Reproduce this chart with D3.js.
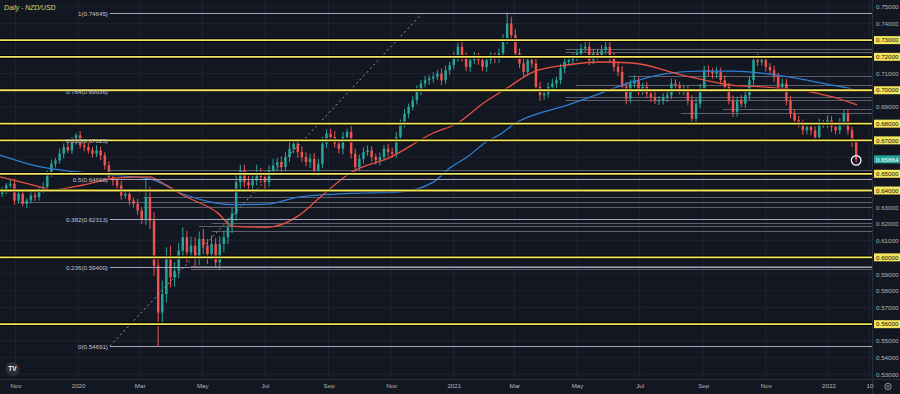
<!DOCTYPE html>
<html><head><meta charset="utf-8">
<script src="https://cdn.jsdelivr.net/npm/d3@7"></script>
<style>html,body{margin:0;padding:0;background:#131722;overflow:hidden}svg{display:block}</style>
</head><body><svg id="c" width="900" height="394"></svg>
<script>
// ---------------- data ----------------
const title = "Daily - NZD/USD";
const startDate = "2019-10-19";
const stepDays = 4;
const firstOpen = 0.638;
const closes = [
0.640,0.643,0.644,0.634,0.638,0.632,0.634,0.637,0.636,0.640,0.642,0.650,0.656,0.658,0.662,0.666,0.664,0.670,0.673,0.667,
0.666,0.664,0.662,0.664,0.661,0.655,0.648,0.646,0.643,0.637,0.638,0.634,0.632,0.628,0.623,0.636,
0.622,0.595,0.567,0.578,0.600,0.588,0.592,0.604,0.612,0.603,0.607,0.600,0.611,0.607,0.602,0.608,0.597,0.608,0.612,0.618,
0.626,0.645,0.652,0.645,0.643,0.646,0.651,0.648,0.645,0.652,0.655,0.657,0.654,0.660,0.665,0.668,0.663,0.660,0.657,0.659,
0.652,0.656,0.668,0.674,0.672,0.668,0.665,0.672,0.675,0.662,0.654,0.659,0.663,0.664,0.660,0.658,0.660,0.665,0.663,0.662,
0.672,0.680,0.686,0.690,0.694,0.700,0.704,0.706,0.707,0.708,0.710,0.706,0.712,0.715,0.720,0.726,0.720,0.714,0.718,0.720,
0.718,0.714,0.718,0.720,0.719,0.722,0.730,0.740,0.733,0.722,0.716,0.711,0.718,0.716,0.702,0.697,0.698,0.702,0.704,0.706,
0.713,0.717,0.718,0.720,0.722,0.725,0.726,0.718,0.722,0.721,0.724,0.726,0.720,0.714,0.711,0.702,0.695,0.704,0.706,0.700,
0.702,0.698,0.696,0.694,0.694,0.696,0.697,0.704,0.703,0.700,0.700,0.694,0.683,0.692,0.701,0.712,0.711,0.710,0.711,0.706,
0.702,0.694,0.687,0.694,0.692,0.697,0.706,0.718,0.717,0.718,0.714,0.712,0.708,0.702,0.704,0.694,0.686,0.682,0.680,0.676,
0.678,0.676,0.672,0.680,0.680,0.682,0.678,0.676,0.681,0.686,0.676,0.669,0.65864
];
// upper / lower wick lengths beyond the body, in pips (0.0001)
const wickUpPips = [
20,15,25,30,18,22,15,20,25,18,30,20,25,15,30,22,28,20,15,25,
18,25,20,30,22,18,25,20,15,28,20,25,18,30,22,40,
60,50,40,80,60,70,50,45,60,40,55,50,45,60,40,50,35,45,40,55,
40,50,30,35,40,30,45,25,35,30,40,25,35,30,40,25,30,35,28,30,
35,30,40,25,30,35,28,30,20,35,30,25,28,30,25,20,28,22,30,25,
30,25,28,20,25,30,22,25,20,28,22,30,25,20,30,25,35,28,22,30,
25,30,22,28,25,30,35,30,40,35,30,28,30,25,35,30,28,25,30,22,
28,25,30,22,28,25,30,35,28,25,30,28,30,25,28,35,30,25,28,22,
25,28,22,30,25,22,28,30,25,22,28,25,30,35,28,25,30,22,28,25,
30,25,28,22,30,28,25,30,28,25,30,22,28,25,30,28,25,22,28,25,
22,28,25,30,22,28,25,30,22,25,28,20,15
];
const wickDnPips = [
18,22,15,25,20,15,25,18,22,20,15,25,18,22,20,28,15,22,25,18,
25,18,22,20,28,25,18,30,22,25,20,28,22,25,30,35,
50,60,40,70,50,60,55,45,50,60,40,55,45,50,60,35,40,45,50,40,
35,40,45,30,35,40,30,35,40,28,30,35,40,25,30,28,35,30,25,35,
30,35,28,25,30,22,28,35,25,30,28,25,30,22,28,25,30,20,28,25,
25,30,22,28,20,25,30,22,28,25,20,30,22,28,25,30,28,25,30,22,
28,25,30,22,28,25,30,25,35,30,28,30,25,28,30,35,28,25,22,28,
25,28,22,30,25,28,22,30,25,28,22,25,30,28,25,30,35,28,25,30,
28,25,30,22,28,25,30,22,28,25,30,28,25,30,28,22,25,30,28,25,
28,25,30,28,22,25,30,28,25,22,28,25,30,28,25,30,28,25,22,28,
25,30,28,22,25,28,30,25,22,28,25,30,20
];
const wickHighIdx = [35, 58, 111, 123, 142, 184, 205];
const wickHighVal = [0.6475, 0.6555, 0.7285, 0.74645, 0.7290, 0.7219, 0.6885];
const wickLowIdx = [38, 52, 168];
const wickLowVal = [0.54691, 0.5940, 0.6805];

const ma100Dates = ["2019-10-17","2019-11-28","2019-12-05","2020-01-06","2020-02-08","2020-03-11","2020-03-18","2020-04-12","2020-05-16","2020-05-31","2020-07-03","2020-08-04","2020-08-21","2020-09-22","2020-11-01","2020-12-12","2021-01-05","2021-01-30","2021-02-22","2021-03-19","2021-04-21","2021-05-23","2021-06-24","2021-08-12","2021-09-29","2021-11-01","2021-12-03","2022-01-05","2022-01-29"];
const ma100Values = [0.6481,0.6415,0.6403,0.6433,0.6475,0.6481,0.6463,0.6373,0.6266,0.6185,0.6180,0.6254,0.6344,0.6505,0.6601,0.6744,0.6804,0.6924,0.7013,0.7109,0.7151,0.7169,0.7163,0.7091,0.7031,0.7019,0.7001,0.6960,0.6912];
const ma200Dates = ["2019-10-17","2019-11-18","2020-01-22","2020-03-11","2020-04-12","2020-05-31","2020-07-03","2020-08-04","2020-10-08","2020-11-09","2020-12-12","2020-12-28","2021-01-14","2021-01-30","2021-02-16","2021-03-04","2021-03-19","2021-04-21","2021-05-23","2021-06-24","2021-07-27","2021-08-28","2021-09-29","2021-11-01","2021-12-03","2022-01-05","2022-01-24"];
const ma200Values = [0.6612,0.6552,0.6498,0.6469,0.6379,0.6315,0.6318,0.6362,0.6386,0.6391,0.6450,0.6535,0.6600,0.6680,0.6740,0.6810,0.6850,0.6910,0.6980,0.7050,0.7100,0.7115,0.7115,0.7100,0.7070,0.7030,0.7008];

const yellowLevels = [0.73, 0.72, 0.70, 0.68, 0.67, 0.65, 0.64, 0.60, 0.56];
const fibLow = 0.54691, fibHigh = 0.74645;
const fibRatios = [1, 0.764, 0.618, 0.5, 0.382, 0.236, 0];
const fibStartDate = "2020-02-01", fibEndDate = "2020-12-02";
const grayLevelPrices = [0.7245,0.7230,0.7085,0.7030,0.6960,0.6942,0.6885,0.6865,0.6525,0.6360,0.6330,0.6300,0.6205,0.6185,0.6155,0.5950,0.5930];
const grayLevelStarts = ["2021-04-20","2021-04-20","2021-06-20","2021-04-30","2021-04-20","2021-04-20","2021-09-20","2021-08-10","2020-01-31","2020-03-05","2019-11-05","2020-03-05","2020-05-10","2020-04-28","2020-05-10","2020-04-20","2020-04-20"];
const priceTicks = [0.53,0.54,0.55,0.56,0.57,0.58,0.59,0.60,0.61,0.62,0.63,0.64,0.65,0.66,0.67,0.68,0.69,0.70,0.71,0.72,0.73,0.74,0.75];
const timeTickDates = ["2019-11-01","2020-01-01","2020-03-01","2020-05-01","2020-07-01","2020-09-01","2020-11-01","2021-01-01","2021-03-01","2021-05-01","2021-07-01","2021-09-01","2021-11-01","2022-01-01","2022-02-10"];
const timeTickLabels = ["Nov","2020","Mar","May","Jul","Sep","Nov","2021","Mar","May","Jul","Sep","Nov","2022","10"];
const lastPrice = 0.65864;

// ---------------- chart ----------------
const W = 900, H = 394, PW = 872, PH = 379;
const parse = d3.timeParse("%Y-%m-%d");
const svg = d3.select("#c");
const font = "'Liberation Sans', Arial, sans-serif";
const bg = "#131722";

const x = d3.scaleTime().domain([new Date(2019,9,16,22), new Date(2022,1,12,10)]).range([0, PW]);
const y = d3.scaleLinear().domain([0.53, 0.75]).range([374.3, 6.7]);

svg.append("rect").attr("width", W).attr("height", H).attr("fill", bg);
svg.append("defs").append("clipPath").attr("id","clip").append("rect").attr("width", PW).attr("height", PH);
const plot = svg.append("g").attr("clip-path","url(#clip)");

// grid
plot.selectAll("line.hg").data(priceTicks).join("line").attr("class","hg")
  .attr("x1",0).attr("x2",PW).attr("y1",d=>y(d)).attr("y2",d=>y(d))
  .attr("stroke","#1f2330").attr("stroke-width",1);
plot.selectAll("line.vg").data(timeTickDates).join("line").attr("class","vg")
  .attr("y1",0).attr("y2",PH).attr("x1",d=>x(parse(d))).attr("x2",d=>x(parse(d)))
  .attr("stroke","#1f2330").attr("stroke-width",1);

// gray horizontal levels
plot.selectAll("line.gl").data(grayLevelPrices).join("line").attr("class","gl")
  .attr("x1",(d,i)=>x(parse(grayLevelStarts[i]))).attr("x2",PW)
  .attr("y1",d=>Math.round(y(d))+0.5).attr("y2",d=>Math.round(y(d))+0.5)
  .attr("stroke","#5d606b").attr("stroke-width",1);

// candles
const t0 = parse(startDate);
const candles = closes.map((c,i)=>{
  const o = i ? closes[i-1] : firstOpen;
  let hi = Math.max(o,c) + wickUpPips[i]*0.0001, lo = Math.min(o,c) - wickDnPips[i]*0.0001;
  const hk = wickHighIdx.indexOf(i); if (hk>=0) hi = wickHighVal[hk];
  const lk = wickLowIdx.indexOf(i); if (lk>=0) lo = wickLowVal[lk];
  return {date: d3.timeDay.offset(t0, i*stepDays), open:o, close:c, high:hi, low:lo};
});
const bw = Math.max(1.5, (x(d3.timeDay.offset(t0, stepDays)) - x(t0)) * 0.6);
const up = "#26a69a", dn = "#ef5350";
const cg = plot.append("g");
cg.selectAll("line").data(candles).join("line")
  .attr("x1",d=>x(d.date)).attr("x2",d=>x(d.date))
  .attr("y1",d=>y(d.high)).attr("y2",d=>y(d.low))
  .attr("stroke",d=>d.close>=d.open?up:dn).attr("stroke-width",1);
cg.selectAll("rect").data(candles).join("rect")
  .attr("x",d=>x(d.date)-bw/2).attr("width",bw)
  .attr("y",d=>y(Math.max(d.open,d.close)))
  .attr("height",d=>Math.max(1, Math.abs(y(d.open)-y(d.close))))
  .attr("fill",d=>d.close>=d.open?up:dn);

// moving averages
const line = d3.line().x(d=>x(d[0])).y(d=>y(d[1])).curve(d3.curveMonotoneX);
plot.append("path").datum(ma200Dates.map((d,i)=>[parse(d), ma200Values[i]]))
  .attr("d", line).attr("fill","none").attr("stroke","#2f7fd6").attr("stroke-width",1.3);
plot.append("path").datum(ma100Dates.map((d,i)=>[parse(d), ma100Values[i]]))
  .attr("d", line).attr("fill","none").attr("stroke","#e8503f").attr("stroke-width",1.3);

// fib retracement lines
const fs = parse(fibStartDate), fe = parse(fibEndDate);
plot.append("line").attr("x1",x(fs)).attr("y1",y(fibLow)).attr("x2",x(fe)).attr("y2",y(fibHigh))
  .attr("stroke","#9598a1").attr("stroke-width",1).attr("stroke-dasharray","2,3");
const fibG = plot.append("g");
fibRatios.forEach(r=>{
  const p = fibLow + r*(fibHigh-fibLow);
  const yy = Math.round(y(p))+0.5;
  fibG.append("line").attr("x1",x(fs)).attr("x2",PW).attr("y1",yy).attr("y2",yy)
    .attr("stroke","#a7a2b8").attr("stroke-width",1);
});

// yellow levels
const yel = "#f3e55c";
yellowLevels.forEach(p=>{
  const yy = y(p);
  plot.append("line").attr("x1",0).attr("x2",PW).attr("y1",yy).attr("y2",yy)
    .attr("stroke","#000").attr("stroke-width",3.6);
  plot.append("line").attr("x1",0).attr("x2",PW).attr("y1",yy).attr("y2",yy)
    .attr("stroke",yel).attr("stroke-width",1.8);
});

// fib labels (on top)
fibRatios.forEach(r=>{
  const p = fibLow + r*(fibHigh-fibLow);
  const yy = Math.round(y(p))+0.5;
  plot.append("text").attr("x",x(fs)-2).attr("y",yy).attr("dy","0.35em")
    .attr("text-anchor","end").attr("font-family",font).attr("font-size",6.2)
    .attr("fill","#c4c2cf").text(`${r}(${p.toFixed(5)})`);
});

// last price marker
plot.append("circle").attr("cx",x(candles[candles.length-1].date)).attr("cy",y(lastPrice)+1)
  .attr("r",4.8).attr("fill","none").attr("stroke","#ffffff").attr("stroke-width",1.3);

// title
svg.append("text").attr("x",4).attr("y",9.5).attr("font-family",font).attr("font-style","italic")
  .attr("font-size",6.8).attr("fill","#d7d95e").text(title);

// axis separators
svg.append("line").attr("x1",PW+0.5).attr("x2",PW+0.5).attr("y1",0).attr("y2",H).attr("stroke","#2a2e39");
svg.append("line").attr("x1",0).attr("x2",W).attr("y1",PH+0.5).attr("y2",PH+0.5).attr("stroke","#2a2e39");

// price axis
const special = yellowLevels.concat([0.66]);
const yAxis = d3.axisRight(y).tickValues(priceTicks.filter(t=>!special.some(s=>Math.abs(s-t)<1e-6)))
  .tickFormat(d3.format(".5f")).tickSize(0).tickPadding(4);
const ya = svg.append("g").attr("transform",`translate(${PW},0)`).call(yAxis);
ya.select(".domain").remove();
ya.selectAll("text").attr("font-family",font).attr("font-size",6.2).attr("fill","#b2b5be");

yellowLevels.forEach(p=>{
  const yy = y(p);
  svg.append("rect").attr("x",PW+2).attr("y",yy-4).attr("width",W-PW-2).attr("height",8).attr("fill",yel);
  svg.append("text").attr("x",PW+4).attr("y",yy).attr("dy","0.35em").attr("font-family",font)
    .attr("font-size",6.2).attr("fill","#111").text(d3.format(".5f")(p));
});
svg.append("rect").attr("x",PW+2).attr("y",y(lastPrice)-4).attr("width",W-PW-2).attr("height",8).attr("fill","#22a69a");
svg.append("text").attr("x",PW+4).attr("y",y(lastPrice)).attr("dy","0.35em").attr("font-family",font)
  .attr("font-size",6.2).attr("fill","#ffffff").text(d3.format(".5f")(lastPrice));

// time axis
const xAxis = d3.axisBottom(x).tickValues(timeTickDates.map(parse))
  .tickFormat((d,i)=>timeTickLabels[i]).tickSize(0).tickPadding(5);
const xa = svg.append("g").attr("transform",`translate(0,${PH})`).call(xAxis);
xa.select(".domain").remove();
xa.selectAll("text").attr("font-family",font).attr("font-size",6.2).attr("fill","#b2b5be");

// TradingView logo
svg.append("circle").attr("cx",12.5).attr("cy",369).attr("r",7).attr("fill","#2a2e39");
svg.append("text").attr("x",12.5).attr("y",369).attr("dy","0.35em").attr("text-anchor","middle")
  .attr("font-family",font).attr("font-weight","bold").attr("font-size",6.5).attr("fill","#ffffff").text("TV");
// settings icon
svg.append("circle").attr("cx",888).attr("cy",386.5).attr("r",3.2).attr("fill","none").attr("stroke","#9598a1").attr("stroke-width",1);
svg.append("circle").attr("cx",888).attr("cy",386.5).attr("r",1.2).attr("fill","none").attr("stroke","#9598a1").attr("stroke-width",0.8);
</script></body></html>
